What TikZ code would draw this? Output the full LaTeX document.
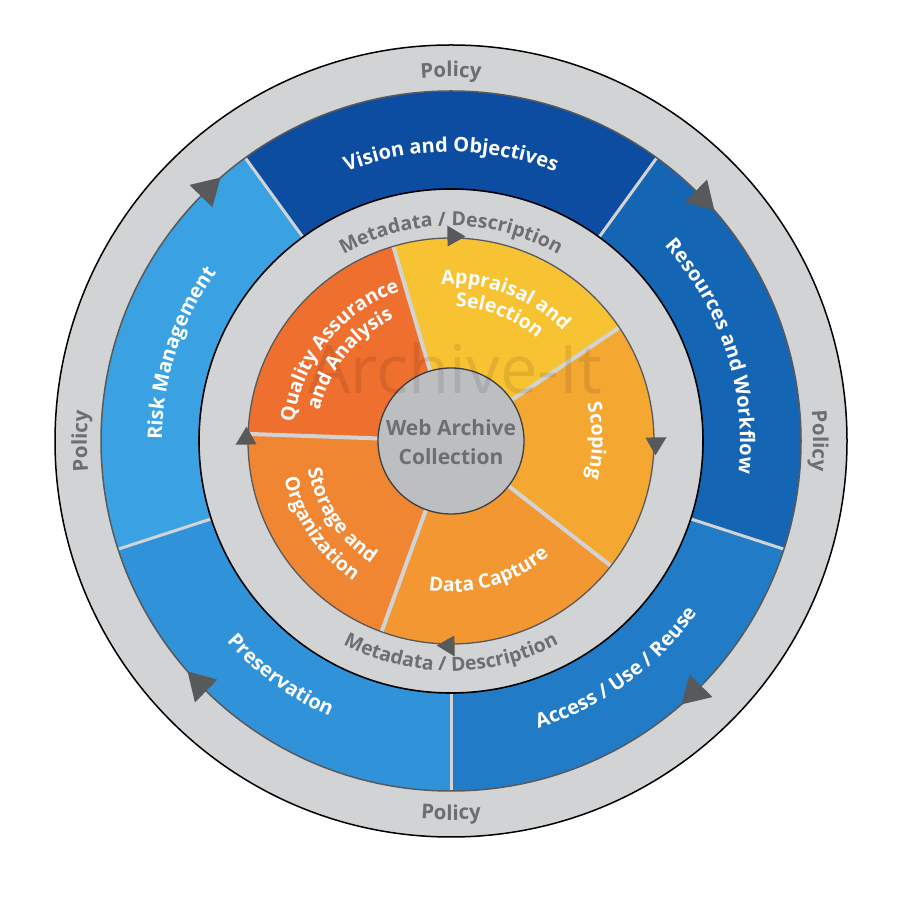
\documentclass[tikz,border=0pt]{standalone}
\usepackage{fontspec}
\setmainfont{Open Sans}
\usetikzlibrary{decorations.text}
\definecolor{ringgray}{HTML}{D1D3D4}
\definecolor{txtgray}{HTML}{6D6E71}
\definecolor{arrgray}{HTML}{58595B}
\definecolor{cvision}{HTML}{0C4DA2}
\definecolor{cres}{HTML}{1565B5}
\definecolor{caccess}{HTML}{227BC6}
\definecolor{cpres}{HTML}{3092D9}
\definecolor{crisk}{HTML}{3AA2E3}
\definecolor{cqa}{HTML}{EF6F2F}
\definecolor{capp}{HTML}{F8C332}
\definecolor{cscope}{HTML}{F4A731}
\definecolor{cdata}{HTML}{F39732}
\definecolor{cstore}{HTML}{F08532}
\definecolor{ccenter}{HTML}{BCBEC0}
\tikzset{
  bdivider/.style={draw=ringgray,line width=3pt},
  odivider/.style={draw=ringgray,line width=4pt},
}
\newcommand{\ringsec}[5]{\fill[#1] (#2:#4) arc[start angle=#2,end angle=#3,radius=#4] -- (#3:#5) arc[start angle=#3,end angle=#2,radius=#5] -- cycle;}
% angle, baseline radius, size, color, text
\newcommand{\cwtext}[5]{\path[decorate,decoration={text along path,text align=center,text color=#4,
    text={|\bfseries\fontsize{#3}{#3}\selectfont|#5}}]
    ({#1+85}:#2) arc[start angle={#1+85},end angle={#1-85},radius=#2];}
\newcommand{\ccwtext}[5]{\path[decorate,decoration={text along path,text align=center,text color=#4,
    text={|\bfseries\fontsize{#3}{#3}\selectfont|#5}}]
    ({#1-85}:#2) arc[start angle={#1-85},end angle={#1+85},radius=#2];}
% base angle, radius, length, width
\newcommand{\cwarrow}[4]{\fill[arrgray] ({#1}:{#2+#4/2}) -- ({#1-#3/#2*57.29578}:#2) -- ({#1}:{#2-#4/2}) -- cycle;}
\begin{document}
\begin{tikzpicture}[x=1pt,y=1pt]
\useasboundingbox (0,0) rectangle (900,910);
\fill[white] (0,0) rectangle (900,910);
\begin{scope}[shift={(451,469)}]
% outer policy ring
\fill[ringgray] (0,0) circle[radius=396];
\draw[black,line width=1.5pt] (0,0) circle[radius=396];
% blue ring
\ringsec{cvision}{54}{126}{350}{252}
\ringsec{cres}{-18}{54}{350}{252}
\ringsec{caccess}{-90}{-18}{350}{252}
\ringsec{cpres}{198}{270}{350}{252}
\ringsec{crisk}{126}{198}{350}{252}
\foreach \a in {54,126,198,270,342} \draw[bdivider] (\a:252) -- (\a:350);
\draw[arrgray,line width=1.5pt] (0,0) circle[radius=350];
% metadata ring
\fill[ringgray] (0,0) circle[radius=252];
\draw[black,line width=1.6pt] (0,0) circle[radius=252];
% orange wedges
\ringsec{cqa}{106.5}{178}{203}{60}
\ringsec{capp}{34}{106.5}{203}{60}
\ringsec{cscope}{-38}{34}{203}{60}
\ringsec{cdata}{-110}{-38}{203}{60}
\ringsec{cstore}{178}{250}{203}{60}
\foreach \a in {34,106.5,178,250,322} \draw[odivider] (\a:73) -- (\a:203);
\draw[arrgray,line width=1.3pt] (0,0) circle[radius=203];
% center
\fill[ccenter] (0,0) circle[radius=73];
\draw[arrgray!70!black,line width=1.3pt] (0,0) circle[radius=73];
% watermark
\node[text=black,text opacity=0.09,font=\fontsize{67}{67}\selectfont] (wm) at (4,73) {Archive-It};
% arrows
\cwarrow{135.6}{350}{27}{32}
\cwarrow{45.6}{350}{27}{32}
\cwarrow{-44.4}{350}{27}{32}
\cwarrow{-134.4}{350}{27}{32}
\cwarrow{91}{205}{18}{21}
\cwarrow{1}{205}{18}{21}
\cwarrow{-89}{205}{18}{21}
\cwarrow{181}{205}{18}{21}
% policy labels
\cwtext{90}{364}{20.5}{txtgray}{Policy}
\cwtext{180}{364}{20.5}{txtgray}{Policy}
\cwtext{0}{362}{20.5}{txtgray}{Policy}
\ccwtext{-90}{379}{20.5}{txtgray}{Policy}
% blue labels
\cwtext{90}{289}{20}{white}{Vision and Objectives}
\cwtext{18}{289}{20}{white}{Resources and Workflow}
\cwtext{162}{289}{20}{white}{Risk Management}
\ccwtext{-54}{300}{20}{white}{Access / Use / Reuse}
\ccwtext{234}{301}{20}{white}{Preservation}
% metadata labels
\cwtext{90}{215}{19.5}{txtgray}{Metadata / Description}
\ccwtext{-90}{230}{19.5}{txtgray}{Metadata / Description}
% orange labels
\cwtext{141}{158}{19.5}{white}{Quality Assurance}
\cwtext{141}{135}{19.5}{white}{and Analysis}
\cwtext{69}{157}{19.5}{white}{Appraisal and}
\cwtext{69}{134}{19.5}{white}{Selection}
\cwtext{0}{141}{19.5}{white}{Scoping}
\ccwtext{-74}{151}{19.5}{white}{Data Capture}
\ccwtext{214}{146}{19.5}{white}{Storage and}
\ccwtext{214}{171}{19.5}{white}{Organization}
% center label
\node[align=center,text=txtgray,font=\bfseries\fontsize{21}{29}\selectfont] (core) at (0,-1) {Web Archive\\Collection};
\end{scope}
\end{tikzpicture}
\end{document}
